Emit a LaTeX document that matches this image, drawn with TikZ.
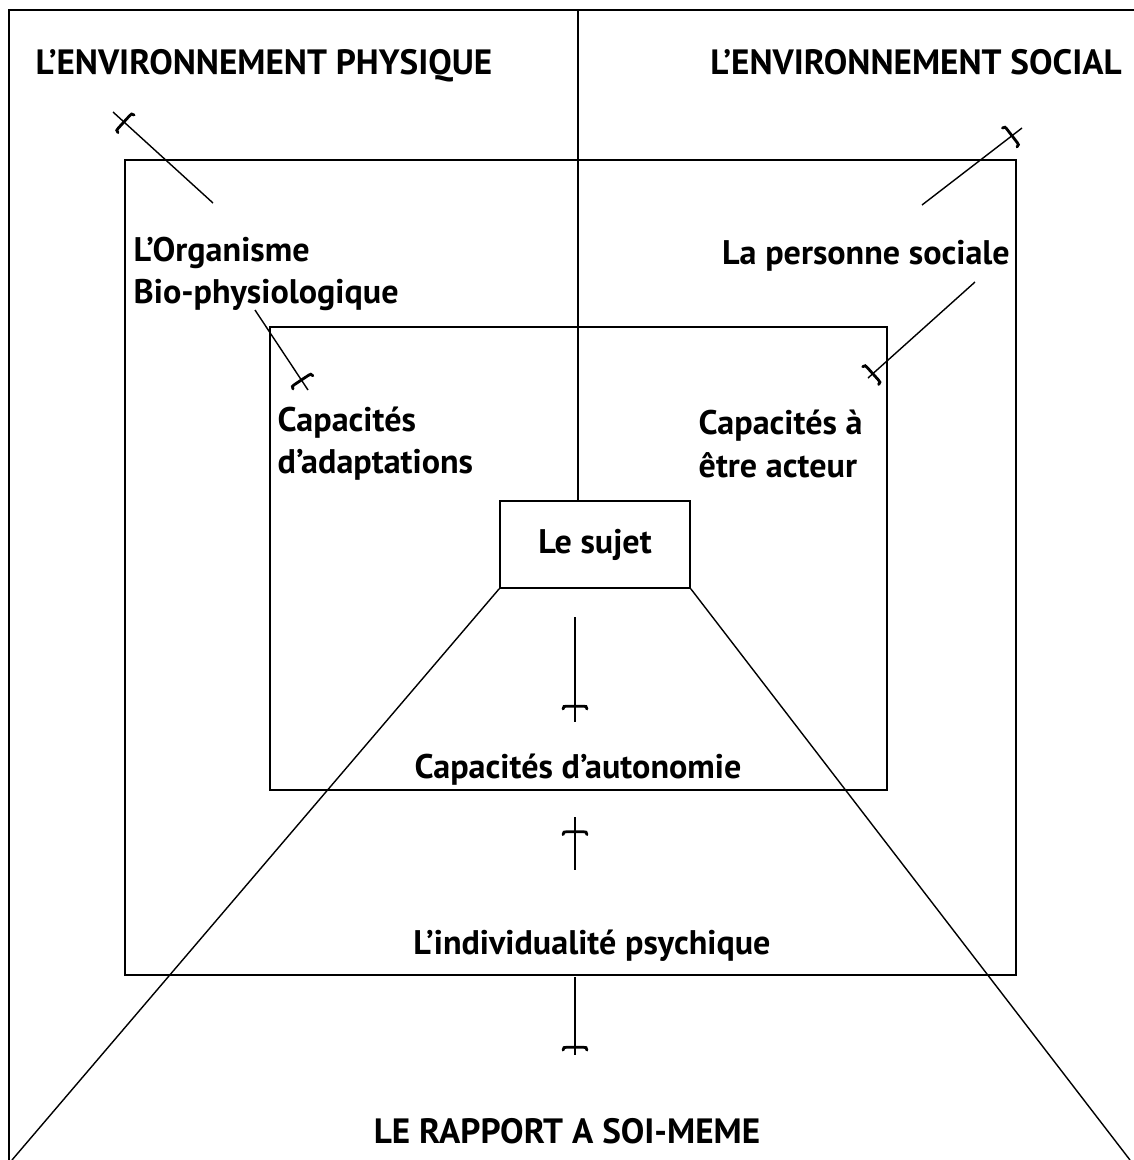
\documentclass[tikz,border=0pt]{standalone}
\usepackage{fontspec}
\setmainfont{PT Sans}
\usetikzlibrary{decorations.markings}

\tikzset{
  lbl/.style={font=\bfseries\fontsize{9.7}{12}\selectfont, inner sep=0pt},
  caps/.style={lbl, font=\bfseries\fontsize{10}{12}\selectfont},
  barstroke/.style={line width=0.8pt, line cap=round},
  % small flared cross-bar sitting on a line
  barmark/.style={postaction={decorate},
    decoration={markings, mark=at position #1 with {
      \draw[barstroke] (0.8pt,-3.4pt) .. controls (0pt,-3.2pt) .. (0pt,-2.4pt)
        -- (0pt,2.4pt) .. controls (0pt,3.2pt) .. (0.8pt,3.4pt);}}},
}

\begin{document}
\begin{tikzpicture}[x=0.01cm, y=-0.01cm, line width=0.4pt]
  \useasboundingbox (0,0) rectangle (1134,1160);

  % frame, divider and the two nested boxes
  \draw[line width=0.6pt] (1134,10) -- (9,10) -- (9,1160);
  \draw (125,160) rectangle (1016,975);
  \draw (270,327) rectangle (887,790);

  \node[draw, lbl, minimum width=1.9cm, minimum height=0.87cm] (sujet) at (595,544.5) {Le sujet};

  \coordinate (top) at (578,10);
  \draw (top) -- (top |- sujet.north);

  % labels
  \node[caps, anchor=base] (physique) at (264,74) {L’ENVIRONNEMENT PHYSIQUE};
  \node[caps, anchor=base] (social) at (916,74) {L’ENVIRONNEMENT SOCIAL};
  \node[lbl, anchor=west, align=left] (organisme) at (133,274) {L’Organisme\\Bio-physiologique};
  \node[lbl, anchor=base] (personne) at (866,264) {La personne sociale};
  \node[lbl, anchor=west, align=left] (adaptation) at (277,444) {Capacités\\d’adaptations};
  \node[lbl, anchor=west, align=left] (acteur) at (698,444) {Capacités à\\être acteur};
  \node[lbl, anchor=base] (autonomie) at (578,778) {Capacités d’autonomie};
  \node[lbl, anchor=base] (psychique) at (592,954) {L’individualité psychique};
  \node[caps, anchor=base] (rapport) at (567,1143) {LE RAPPORT A SOI-MEME};

  % the two long sides from the subject
  \coordinate (sw end) at (12,1160);
  \coordinate (se end) at (1130,1160);
  \draw (sujet.south west) -- (sw end);
  \draw (sujet.south east) -- (se end);

  % short lines with cross-bars
  \coordinate (tl1) at (113,112);  \coordinate (tl2) at (213,203);
  \coordinate (bl1) at (255,310);  \coordinate (bl2) at (308,390);
  \coordinate (tr1) at (1022,128); \coordinate (tr2) at (922,205);
  \coordinate (br1) at (975,282);  \coordinate (br2) at (868,378);
  \coordinate (v1) at (575,617);   \coordinate (v2) at (575,722);
  \coordinate (v3) at (575,817);   \coordinate (v4) at (575,870);
  \coordinate (v5) at (575,977);   \coordinate (v6) at (575,1055);

  \draw[barmark=4.2pt] (tl1) -- (tl2);
  \draw[barmark=-3.4pt] (bl1) -- (bl2);
  \draw[barmark=3.6pt] (tr1) -- (tr2);
  \draw[barmark=-1.8pt] (br1) -- (br2);
  \draw[barmark=-4.5pt] (v1) -- (v2);
  \draw[barmark=4.2pt] (v3) -- (v4);
  \draw[barmark=-2.2pt] (v5) -- (v6);
\end{tikzpicture}
\end{document}
